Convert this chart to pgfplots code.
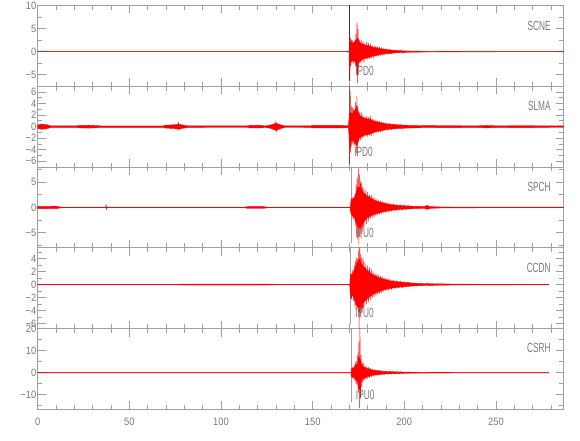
\documentclass[border=0pt]{standalone}
\usepackage{fontspec}
\usepackage{pgfplots}
\pgfplotsset{compat=1.18}
\newfontfamily\tickfont[FakeStretch=0.88]{Liberation Sans}
\newfontfamily\lblfont[FakeStretch=0.62]{Liberation Sans}
\definecolor{axc}{HTML}{A0A0A0}
\definecolor{txc}{HTML}{7A7A7A}
\pgfplotsset{
 seis/.style={
  scale only axis, width=394.5pt, height=60.6pt, anchor=south west,
  xmin=0, xmax=287,
  xtick={0,50,...,250},
  minor xtick={10,20,30,40,60,70,80,90,110,120,130,140,160,170,180,190,210,220,230,240,260,270,280},
  xticklabels={},
  tick align=inside, major tick length=6pt, minor tick length=3.3pt,
  axis line style={draw=axc, line width=0.6pt},
  tick style={draw=axc, line width=0.6pt},
  yticklabel style={font=\tickfont\fontsize{8}{9}\selectfont, text=txc, inner sep=0.8pt},
  xticklabel style={font=\tickfont\fontsize{8}{9}\selectfont, text=txc, yshift=-3pt},
 },
 trace/.style={red, line width=0.35pt, line join=round, mark=none},
 band/.style={fill=red, draw=red, line width=0.25pt, mark=none},
}
\tikzset{
 stn/.style={anchor=east, font=\lblfont\fontsize{10}{12}\selectfont, text=txc, inner sep=0pt},
 pck/.style={anchor=west, font=\lblfont\fontsize{10}{12}\selectfont, text=txc, inner sep=0pt},
}
\begin{document}
\begin{tikzpicture}
\useasboundingbox (0,0) rectangle (435pt,330pt);
% ---------------- SCNE
\begin{axis}[seis, at={(28.3pt,265.3pt)}, ymin=-7.5, ymax=10,
  ytick={-5,0,5,10}, yticklabels={−5,0,5,10}, minor ytick={-7.5,-2.5,2.5,7.5}]
\addplot[draw=black!80, line width=0.5pt] coordinates {(170.2,10) (170.2,-6.4)};
\addplot[band] coordinates {
(0,0.03) (168,0.03) (170,0.1) (170.3,2.0) (172,1.8) (173.5,2.4) (174.5,3.0) (175.5,2.0) (177,1.7)
(179,1.4) (181,1.2) (183,0.95) (185,0.8) (187,0.6) (190,0.45) (193,0.32) (196,0.24) (200,0.16)
(205,0.12) (212,0.08) (225,0.05) (287,0.03)
(287,-0.03) (225,-0.05) (212,-0.08) (205,-0.12) (200,-0.16) (196,-0.24) (193,-0.32) (190,-0.45)
(187,-0.6) (185,-0.8) (183,-0.95) (181,-1.2) (179,-1.4) (177,-1.7) (175.5,-2.2) (174.5,-3.2)
(173.5,-2.4) (172,-1.9) (170.3,-2.4) (170,-0.1) (168,-0.03) (0,-0.03)} --cycle;
\addplot[trace] coordinates {
(170.0,0) (170.3,-6.4) (170.6,2.9) (170.9,-3.0) (171.2,2.6) (171.5,-2.2) (171.8,2.4) (172.1,-2.6) (172.4,2.0)
(172.7,-2.3) (173.0,2.5) (173.3,-3.1) (173.6,3.8) (173.9,-4.6) (174.2,6.4) (174.5,-6.8) (174.8,4.9)
(175.1,-3.5) (175.5,2.6) (176.0,-2.3) (176.5,2.5) (177.0,-2.1) (177.5,2.2) (178.0,-2.4) (178.5,1.9)
(179.0,-1.7) (179.5,2.0) (180.0,-1.6) (180.5,1.8) (181.0,-1.5) (181.5,1.7) (182.0,-1.4) (182.5,1.3)
(183.0,-1.5) (183.5,1.2) (184.0,-1.1) (184.5,1.3) (185.0,-1.0) (185.5,1.1) (186.0,-0.9) (186.5,1.0)
(187.0,-0.8) (187.5,0.9) (188.0,-0.8) (188.5,0.7) (189.0,-0.75) (189.5,0.65) (190.0,-0.6) (190.5,0.6)
(191.0,-0.55) (191.5,0.5) (192.0,-0.5) (192.5,0.45) (193.0,-0.45) (193.5,0.4) (194.0,-0.4) (194.5,0.38)
(195.0,-0.35) (196,0.33) (197,-0.3) (198,0.3) (199,-0.28) (200,0)};
\node[stn] at (axis cs:280,5.65) {SCNE};
\node[pck] at (axis cs:173.1,-4.2) {IPD0};
\end{axis}
% ---------------- SLMA
\begin{axis}[seis, at={(28.3pt,204.7pt)}, ymin=-7, ymax=7,
  ytick={-6,-4,-2,0,2,4,6}, yticklabels={−6,−4,−2,0,2,4,6}, minor ytick={-5,-3,-1,1,3,5}]
\addplot[draw=black!60, line width=0.5pt] coordinates {(170.1,7) (170.1,-6.5)};
\addplot[band] coordinates {
(0,0.3) (2,0.45) (5,0.35) (7,0.15) (21,0.15) (23,0.22) (28,0.25) (33,0.18) (35,0.12) (68,0.13)
(70,0.25) (74,0.32) (77,0.42) (79,0.28) (82,0.15) (114,0.13) (116,0.22) (122,0.22) (124,0.13)
(127,0.28) (130,0.6) (133,0.28) (135,0.13) (149,0.15) (150,0.22) (165,0.22) (169.5,0.18) (170.2,2.5)
(172,2.2) (174,3.5) (175.5,2.0) (178,1.5) (181,1.3) (184,0.9) (187,0.7) (190,0.5) (195,0.35)
(200,0.26) (210,0.18) (240,0.15) (245,0.22) (250,0.15) (265,0.17) (287,0.13)
(287,-0.13) (265,-0.17) (250,-0.15) (245,-0.22) (240,-0.15) (210,-0.18) (200,-0.26) (195,-0.35)
(190,-0.5) (187,-0.7) (184,-0.9) (181,-1.3) (178,-1.5) (175.5,-2.0) (174,-3.3) (172,-2.3)
(170.2,-2.8) (169.5,-0.18) (165,-0.22) (150,-0.22) (149,-0.15) (135,-0.13) (133,-0.28) (130,-0.65)
(127,-0.28) (124,-0.13) (122,-0.22) (116,-0.22) (114,-0.13) (82,-0.15) (79,-0.28) (77,-0.45) (74,-0.32)
(70,-0.25) (68,-0.13) (35,-0.12) (33,-0.18) (28,-0.25) (23,-0.22) (21,-0.15) (7,-0.15) (5,-0.35)
(2,-0.45) (0,-0.3)} --cycle;
\addplot[trace] coordinates {(76.5,0) (76.8,0.75) (77.1,-0.6) (77.4,0)};
\addplot[trace] coordinates {(129.6,0) (129.9,0.95) (130.2,-0.9) (130.5,0)};
\addplot[trace] coordinates {
(170.0,0.3) (170.2,-6.4) (170.5,6.2) (170.8,-4.5) (171.1,3.5) (171.4,-3.2) (171.7,3.3) (172.0,-2.9)
(172.3,3.1) (172.6,-3.4) (172.9,2.8) (173.2,-3.0) (173.5,4.2) (173.8,-4.6) (174.1,5.3) (174.4,-5.1)
(174.7,3.6) (175.0,-2.6) (175.5,2.4) (176.0,-2.3) (176.5,2.5) (177.0,-2.1) (177.5,2.0) (178.0,-1.8)
(178.5,1.7) (179.0,-1.6) (179.5,1.8) (180.0,-1.7) (180.5,1.6) (181.0,-1.5) (181.5,1.85) (182.0,-1.6)
(182.5,1.4) (183.0,-1.3) (183.5,1.2) (184.0,-1.1) (184.5,1.15) (185.0,-1.0) (185.5,1.05) (186.0,-0.95)
(186.5,0.9) (187.0,-0.9) (187.5,0.85) (188.0,-0.8) (188.5,0.75) (189,-0.7) (189.5,0.65) (190,-0.6)
(190.5,0.6) (191,-0.55) (192,0.55) (193,-0.5) (194,0.45) (195,-0.45) (196,0.42) (197,-0.4) (198,0.38)
(199,-0.35) (200,0)};
\node[stn] at (axis cs:280,3.56) {SLMA};
\node[pck] at (axis cs:172.6,-4.36) {IPD0};
\end{axis}
% ---------------- SPCH
\begin{axis}[seis, at={(28.3pt,144.1pt)}, ymin=-8, ymax=8,
  ytick={-5,0,5}, yticklabels={−5,0,5}, minor ytick={-7.5,-2.5,2.5,7.5}]
\addplot[draw=axc, line width=0.5pt] coordinates {(171.0,8) (171.0,-7.0)};
\addplot[band] coordinates {
(0,0.22) (10,0.25) (13,0.06) (113,0.06) (115,0.2) (123,0.2) (125,0.06) (170.5,0.06) (171,1.5)
(173,2.0) (174.5,4.0) (176,4.0) (178,2.8) (180,2.2) (182,1.8) (185,1.2) (188,0.9) (192,0.6)
(196,0.45) (200,0.33) (206,0.22) (211,0.2) (212.5,0.42) (214,0.18) (220,0.1) (240,0.07) (287,0.06)
(287,-0.06) (240,-0.07) (220,-0.1) (214,-0.18) (212.5,-0.38) (211,-0.2) (206,-0.22) (200,-0.33) (196,-0.45)
(192,-0.6) (188,-0.9) (185,-1.2) (182,-1.6) (180,-2.0) (178,-2.8) (176,-4.2) (174.5,-3.8)
(173,-2.0) (171,-1.3) (170.5,-0.06) (125,-0.06) (123,-0.2) (115,-0.2) (113,-0.06) (13,-0.06)
(10,-0.25) (0,-0.22)} --cycle;
\addplot[trace] coordinates {(37.0,0) (37.3,0.65) (37.6,-0.45) (37.9,0)};
\addplot[trace] coordinates {
(170.5,0.2) (171.0,-1.2) (171.3,1.8) (171.6,-2.1) (171.9,2.0) (172.2,-2.2) (172.5,1.9) (172.8,-2.4) (173.1,2.6)
(173.4,-3.5) (173.7,4.5) (174.0,-5.0) (174.3,5.7) (174.6,-6.2) (174.9,7.7) (175.2,-7.3) (175.5,6.5)
(175.8,-5.8) (176.1,5.2) (176.4,-6.0) (176.7,4.8) (177.0,-4.5) (177.3,4.0) (177.6,-4.2) (178.0,3.8)
(178.5,-3.6) (179.0,3.4) (179.5,-3.2) (180.0,3.0) (180.5,-2.6) (181.0,2.5) (181.5,-2.2) (182.0,2.4)
(182.5,-2.0) (183.0,2.1) (183.5,-1.9) (184.0,1.8) (184.5,-1.6) (185.0,1.6) (185.5,-1.4) (186.0,1.5)
(186.5,-1.3) (187.0,1.3) (187.5,-1.2) (188.0,1.2) (188.5,-1.1) (189.0,1.1) (189.5,-1.0) (190.0,0.95)
(190.5,-0.9) (191,0.9) (191.5,-0.85) (192,0.8) (193,-0.75) (194,0.7) (195,-0.65) (196,0.6) (197,-0.55)
(198,0.5) (199,-0.5) (200,0.45) (201,-0.42) (202,0.4) (203,0)};
\node[stn] at (axis cs:280,4.1) {SPCH};
\node[pck] at (axis cs:173.1,-5.0) {IPU0};
\end{axis}
% ---------------- CCDN
\begin{axis}[seis, at={(28.3pt,83.5pt)}, ymin=-6.8, ymax=5.65,
  ytick={-6,-4,-2,0,2,4}, yticklabels={−6,−4,−2,0,2,4}, minor ytick={-5,-3,-1,1,3,5}]
\addplot[draw=axc, line width=0.5pt] coordinates {(170.7,5.65) (170.7,-6.15)};
\addplot[band] coordinates {
(0,0.04) (75,0.04) (80,0.08) (125,0.08) (130,0.04) (170.3,0.04) (170.6,1.5) (172,1.7) (173.5,2.8)
(175.5,4.0) (177,3.0) (180,2.1) (183,1.5) (186,1.1) (189,0.8) (192,0.6) (196,0.45) (200,0.33)
(205,0.22) (212,0.14) (225,0.08) (240,0.05) (279,0.04)
(279,-0.04) (240,-0.05) (225,-0.08) (212,-0.14) (205,-0.22) (200,-0.33) (196,-0.45) (192,-0.6) (189,-0.8)
(186,-1.1) (183,-1.5) (180,-2.1) (177,-3.0) (175.5,-4.2) (173.5,-2.8) (172,-1.7) (170.6,-1.5)
(170.3,-0.04) (130,-0.04) (125,-0.08) (80,-0.08) (75,-0.04) (0,-0.04)} --cycle;
\addplot[trace] coordinates {
(170.3,0.1) (170.6,-2.0) (170.9,1.5) (171.2,-2.3) (171.5,2.3) (171.8,-1.8) (172.1,2.0) (172.4,-2.5)
(172.7,3.0) (173.0,-3.2) (173.3,3.6) (173.6,-3.8) (173.9,4.1) (174.2,-3.5) (174.5,3.9) (174.8,-4.2)
(175.1,5.2) (175.4,-6.6) (175.7,6.2) (176.0,-5.0) (176.3,4.6) (176.6,-4.3) (176.9,4.1) (177.2,-3.9)
(177.5,4.0) (177.8,-3.6) (178.1,3.5) (178.5,-3.3) (179.0,3.2) (179.5,-3.0) (180.0,2.9) (180.5,-2.7)
(181.0,2.6) (181.5,-2.4) (182.0,2.3) (182.5,-2.1) (183.0,2.0) (183.5,-1.9) (184.0,1.8) (184.5,-1.7)
(185.0,1.6) (185.5,-1.5) (186.0,1.45) (186.5,-1.4) (187.0,1.3) (187.5,-1.25) (188.0,1.2) (188.5,-1.1)
(189,1.05) (189.5,-1.0) (190,0.95) (190.5,-0.9) (191,0.9) (191.5,-0.85) (192,0.8) (193,-0.75) (194,0.7)
(195,-0.65) (196,0.6) (197,-0.55) (198,0.5) (199,-0.48) (200,0.45) (201,-0.42) (202,0.4) (203,0)};
\node[stn] at (axis cs:280,2.57) {CCDN};
\node[pck] at (axis cs:173.1,-4.35) {IPU0};
\end{axis}
% ---------------- CSRH
\begin{axis}[seis, at={(28.3pt,22.9pt)}, ymin=-16.7, ymax=20,
  ytick={-10,0,10,20}, yticklabels={−10,0,10,20}, minor ytick={-15,-5,5,15},
  xticklabels={0,50,100,150,200,250}]
\addplot[draw=axc, line width=0.5pt] coordinates {(171.2,20) (171.2,-13.3)};
\addplot[band] coordinates {
(0,0.1) (171,0.1) (171.3,1.8) (173,2.5) (174.5,4) (175.5,6) (177,3.0) (180,1.8) (183,1.1)
(186,0.8) (190,0.55) (195,0.4) (200,0.28) (210,0.18) (230,0.12) (279,0.1)
(279,-0.1) (230,-0.12) (210,-0.18) (200,-0.28) (195,-0.4) (190,-0.55) (186,-0.8) (183,-1.1) (180,-1.8)
(177,-3.0) (175.5,-6) (174.5,-4) (173,-2.5) (171.3,-1.8) (171,-0.1) (0,-0.1)} --cycle;
\addplot[trace] coordinates {
(171.0,0.3) (171.3,-1.8) (171.6,2.7) (171.9,-2.6) (172.2,2.2) (172.5,-2.4) (172.8,3.5) (173.1,-3.8)
(173.4,4.5) (173.7,-5.0) (174.0,5.2) (174.3,-5.5) (174.6,8.0) (174.9,-9.0) (175.2,14.0) (175.5,-16.0)
(175.8,20.5) (176.1,-12.0) (176.4,8.0) (176.7,-6.5) (177.0,5.0) (177.3,-4.5) (177.6,4.2) (178.0,-3.6)
(178.5,3.2) (179.0,-3.0) (179.5,2.8) (180.0,-2.6) (180.5,2.4) (181.0,-2.2) (181.5,2.0) (182.0,-1.8)
(182.5,1.7) (183.0,-1.6) (183.5,1.5) (184.0,-1.4) (184.5,1.35) (185.0,-1.25) (185.5,1.2) (186.0,-1.1)
(186.5,1.05) (187.0,-1.0) (188,0.95) (189,-0.9) (190,0.8) (191,-0.75) (192,0.7) (193,-0.65) (194,0.6)
(195,-0.55) (196,0.5) (197,-0.48) (198,0.45) (200,0)};
\node[stn] at (axis cs:280,11.1) {CSRH};
\node[pck] at (axis cs:173.5,-10.1) {IPU0};
\end{axis}
\end{tikzpicture}
\end{document}
